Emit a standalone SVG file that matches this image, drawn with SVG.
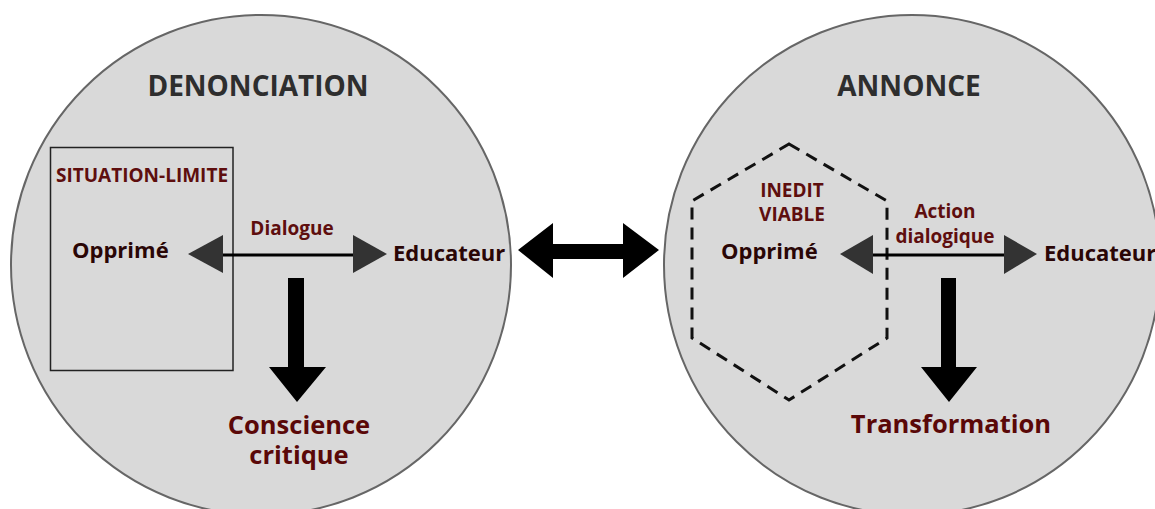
<svg xmlns="http://www.w3.org/2000/svg" width="1155" height="509" viewBox="0 0 1155 509">
<style>
.circ{fill:#d9d9d9;stroke:#666;stroke-width:2}
.title{font-family:"Open Sans","Liberation Sans",sans-serif;font-weight:700;font-size:28px;fill:#2e2e2e;text-anchor:middle}
.lbl{font-family:"Open Sans","Liberation Sans",sans-serif;font-weight:700;font-size:22px;fill:#2a0606}
.sub{font-family:"Open Sans","Liberation Sans",sans-serif;font-weight:700;font-size:19px;fill:#5e0e0e;text-anchor:middle}
.big{font-family:"Open Sans","Liberation Sans",sans-serif;font-weight:700;font-size:25.5px;fill:#5a0808;text-anchor:middle}
.head{fill:#333}
</style>
<rect width="1155" height="509" fill="#fff"/>
<g id="denonciation">
<circle class="circ" cx="261" cy="265" r="250"/>
<text class="title" x="258" y="96">DENONCIATION</text>
</g>
<g id="annonce">
<ellipse class="circ" cx="912" cy="265" rx="248" ry="250"/>
<text class="title" x="909" y="96">ANNONCE</text>
</g>
<g id="situation-limite">
<rect x="50.5" y="147.5" width="182.5" height="223" fill="none" stroke="#222" stroke-width="1.5"/>
<text class="sub" x="142" y="182">SITUATION-LIMITE</text>
</g>
<g id="inedit-viable">
<polygon points="789,144 887,201 887,338 789,400 692,338 692,201" fill="none" stroke="#111" stroke-width="3" stroke-dasharray="12,8"/>
<text class="sub" x="792" y="197">INEDIT</text>
<text class="sub" x="792" y="221">VIABLE</text>
</g>
<g id="opprime-1"><text class="lbl" x="72" y="258">Opprimé</text></g>
<g id="educateur-1"><text class="lbl" x="393" y="261">Educateur</text></g>
<g id="opprime-2"><text class="lbl" x="721" y="259">Opprimé</text></g>
<g id="educateur-2"><text class="lbl" x="1044" y="261">Educateur</text></g>
<g id="conscience"><text class="big" x="299" y="434">Conscience</text><text class="big" x="299" y="464">critique</text></g>
<g id="transformation"><text class="big" x="951" y="433">Transformation</text></g>
<g id="connectors">
<line x1="222" y1="255" x2="354" y2="255" stroke="#000" stroke-width="3"/>
<polygon class="head" points="188,254 223,235 223,273"/>
<polygon class="head" points="387,254 353,235 353,273"/>
<text class="sub" x="292" y="235">Dialogue</text>
<line x1="872" y1="255" x2="1005" y2="255" stroke="#000" stroke-width="3"/>
<polygon class="head" points="840,254 873,235 873,274"/>
<polygon class="head" points="1037,254 1004,235 1004,274"/>
<text class="sub" x="945" y="218">Action</text>
<text class="sub" x="945" y="243">dialogique</text>
<polygon fill="#000" points="288,278 304,278 304,367 326,367 297,402 269,367 288,367"/>
<polygon fill="#000" points="941,278 956,278 956,367 977,367 949,402 921,367 941,367"/>
<polygon fill="#000" points="518,250 553,223 553,244 623,244 623,223 659,250 623,278 623,259 553,259 553,278"/>
</g>
</svg>
